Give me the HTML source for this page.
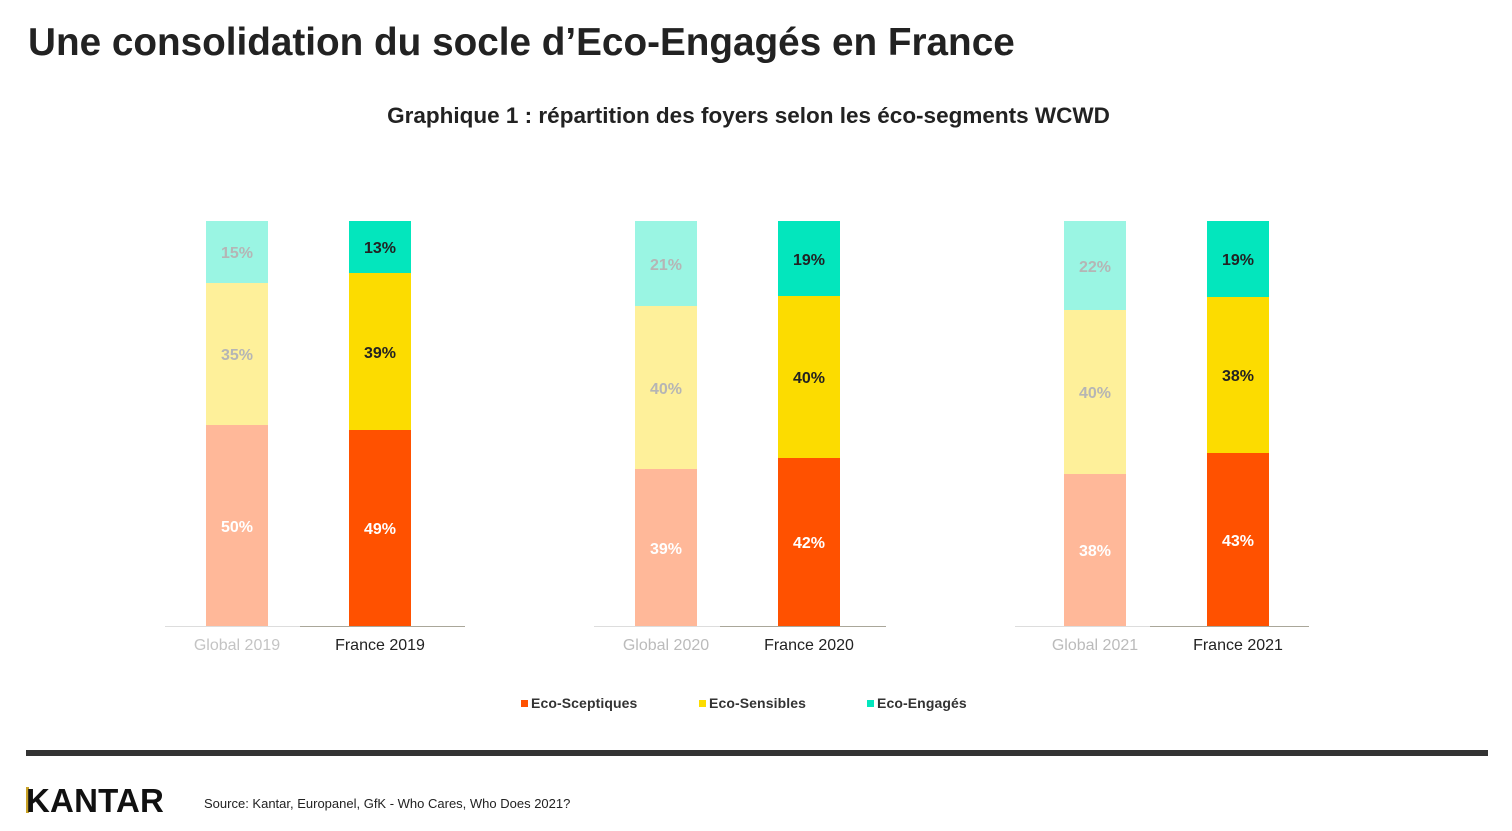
<!DOCTYPE html>
<html><head><meta charset="utf-8"><style>
body{margin:0;width:1512px;height:831px;background:#fff;position:relative;overflow:hidden;font-family:"Liberation Sans",Arial,sans-serif}
.a{position:absolute}
.s{position:absolute;width:62px}
.l{position:absolute;width:62px;text-align:center;font-size:16px;font-weight:bold;transform:translateY(-50%);margin-top:2px}
.x{position:absolute;width:140px;text-align:center;font-size:16px;top:637px}
.lg{position:absolute;top:695px;font-size:14px;font-weight:bold;color:#333;letter-spacing:0.1px}
.lg i{display:inline-block;width:7px;height:7px;margin-right:3px;vertical-align:1px}
</style></head><body>
<div class="a" style="left:28px;top:21px;font-size:38.7px;font-weight:bold;color:#222">Une consolidation du socle d’Eco-Engagés en France</div>
<div class="a" style="left:0;width:1497px;top:103px;text-align:center;font-size:22.5px;font-weight:bold;color:#222">Graphique 1 : répartition des foyers selon les éco-segments WCWD</div>

<div class="a" style="left:165px;width:135px;top:626px;height:1px;background:#ddd"></div>
<div class="a" style="left:300px;width:165px;top:626px;height:1px;background:#aaa79a"></div>
<div class="a" style="left:594px;width:126px;top:626px;height:1px;background:#ddd"></div>
<div class="a" style="left:720px;width:166px;top:626px;height:1px;background:#aaa79a"></div>
<div class="a" style="left:1015px;width:135px;top:626px;height:1px;background:#ddd"></div>
<div class="a" style="left:1150px;width:159px;top:626px;height:1px;background:#aaa79a"></div>

<div class="s" style="left:206px;top:221px;height:62px;background:#9af5e3"></div>
<div class="s" style="left:206px;top:283px;height:142px;background:#fef09a"></div>
<div class="s" style="left:206px;top:425px;height:201px;background:#ffb899"></div>
<div class="l" style="left:206px;top:252px;color:#b5b5b5">15%</div>
<div class="l" style="left:206px;top:354px;color:#b5b5b5">35%</div>
<div class="l" style="left:206px;top:526px;color:#fff">50%</div>
<div class="s" style="left:349px;top:221px;height:52px;background:#03e6bd"></div>
<div class="s" style="left:349px;top:273px;height:157px;background:#fcdc00"></div>
<div class="s" style="left:349px;top:430px;height:196px;background:#ff5100"></div>
<div class="l" style="left:349px;top:247px;color:#222">13%</div>
<div class="l" style="left:349px;top:352px;color:#222">39%</div>
<div class="l" style="left:349px;top:528px;color:#fff">49%</div>
<div class="s" style="left:635px;top:221px;height:85px;background:#9af5e3"></div>
<div class="s" style="left:635px;top:306px;height:163px;background:#fef09a"></div>
<div class="s" style="left:635px;top:469px;height:157px;background:#ffb899"></div>
<div class="l" style="left:635px;top:264px;color:#b5b5b5">21%</div>
<div class="l" style="left:635px;top:388px;color:#b5b5b5">40%</div>
<div class="l" style="left:635px;top:548px;color:#fff">39%</div>
<div class="s" style="left:778px;top:221px;height:75px;background:#03e6bd"></div>
<div class="s" style="left:778px;top:296px;height:162px;background:#fcdc00"></div>
<div class="s" style="left:778px;top:458px;height:168px;background:#ff5100"></div>
<div class="l" style="left:778px;top:259px;color:#222">19%</div>
<div class="l" style="left:778px;top:377px;color:#222">40%</div>
<div class="l" style="left:778px;top:542px;color:#fff">42%</div>
<div class="s" style="left:1064px;top:221px;height:89px;background:#9af5e3"></div>
<div class="s" style="left:1064px;top:310px;height:164px;background:#fef09a"></div>
<div class="s" style="left:1064px;top:474px;height:152px;background:#ffb899"></div>
<div class="l" style="left:1064px;top:266px;color:#b5b5b5">22%</div>
<div class="l" style="left:1064px;top:392px;color:#b5b5b5">40%</div>
<div class="l" style="left:1064px;top:550px;color:#fff">38%</div>
<div class="s" style="left:1207px;top:221px;height:76px;background:#03e6bd"></div>
<div class="s" style="left:1207px;top:297px;height:156px;background:#fcdc00"></div>
<div class="s" style="left:1207px;top:453px;height:173px;background:#ff5100"></div>
<div class="l" style="left:1207px;top:259px;color:#222">19%</div>
<div class="l" style="left:1207px;top:375px;color:#222">38%</div>
<div class="l" style="left:1207px;top:540px;color:#fff">43%</div>

<div class="x" style="left:167px;color:#c4c4c4">Global 2019</div>
<div class="x" style="left:310px;color:#222">France 2019</div>
<div class="x" style="left:596px;color:#bbb">Global 2020</div>
<div class="x" style="left:739px;color:#222">France 2020</div>
<div class="x" style="left:1025px;color:#bbb">Global 2021</div>
<div class="x" style="left:1168px;color:#222">France 2021</div>

<div class="lg" style="left:521px"><i style="background:#ff5100"></i>Eco-Sceptiques</div>
<div class="lg" style="left:699px"><i style="background:#fcdc00"></i>Eco-Sensibles</div>
<div class="lg" style="left:867px"><i style="background:#03e6bd"></i>Eco-Engagés</div>

<div class="a" style="left:26px;width:1462px;top:750px;height:6px;background:#333"></div>
<div class="a" style="left:26px;top:787px;width:3px;height:26px;background:#c9a227"></div>
<div class="a" style="left:26px;top:782px;font-size:33px;font-weight:bold;color:#111;letter-spacing:0.2px">KANTAR</div>
<div class="a" style="left:204px;top:796px;font-size:13px;color:#222">Source: Kantar, Europanel, GfK - Who Cares, Who Does 2021?</div>
</body></html>
